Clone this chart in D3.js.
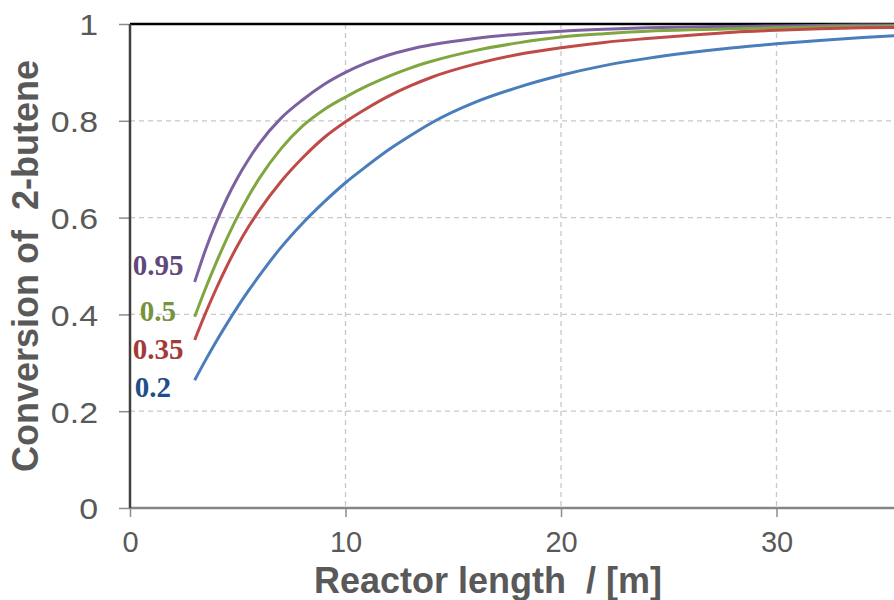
<!DOCTYPE html>
<html>
<head>
<meta charset="utf-8">
<script src="https://cdn.jsdelivr.net/npm/d3@7"></script>
<style>
    body { margin: 0; background: #fff; }
    svg { display: block; }
</style>
</head>
<body>
<div class="chart"></div>
<script>
// reactor length [m]
var lengths = [3, 3.5, 4, 4.5, 5, 5.5, 6, 7, 8, 9, 10, 11, 12, 13, 14, 16, 18, 20, 22, 24, 26, 28, 30, 32, 34, 36];

var seriesNames = ['0.95', '0.5', '0.35', '0.2'];

var conv095 = [0.467, 0.533, 0.590, 0.640, 0.683, 0.720, 0.753, 0.805, 0.843, 0.875, 0.900, 0.920, 0.936, 0.948, 0.957, 0.970, 0.979, 0.985, 0.989, 0.992, 0.994, 0.995, 0.996, 0.997, 0.998, 0.998];
var conv05 = [0.395, 0.453, 0.507, 0.557, 0.603, 0.644, 0.681, 0.742, 0.789, 0.823, 0.849, 0.872, 0.892, 0.909, 0.923, 0.945, 0.961, 0.973, 0.980, 0.985, 0.988, 0.990, 0.992, 0.994, 0.995, 0.996];
var conv035 = [0.347, 0.402, 0.453, 0.500, 0.543, 0.581, 0.615, 0.674, 0.723, 0.765, 0.798, 0.826, 0.851, 0.872, 0.890, 0.917, 0.937, 0.951, 0.962, 0.970, 0.977, 0.983, 0.987, 0.990, 0.992, 0.993];
var conv02 = [0.264, 0.305, 0.344, 0.381, 0.416, 0.449, 0.480, 0.538, 0.588, 0.632, 0.672, 0.707, 0.740, 0.769, 0.796, 0.838, 0.869, 0.894, 0.914, 0.929, 0.941, 0.951, 0.959, 0.966, 0.972, 0.977];

var xTicks = [0, 10, 20, 30];
var yTicks = [0, 0.2, 0.4, 0.6, 0.8, 1];

var config = {
    w: 894,
    h: 600,
    left: 130,
    top: 24,
    bottom: 508,
    unit: 21.55,
    font: 'Arial, "Liberation Sans", sans-serif',
    serif: '"Times New Roman", "Liberation Serif", serif',
    textColor: '#595959',
    lineColors: ['#7d60a0', '#80a640', '#be4b48', '#4a7ebb'],
    labelColors: ['#5f497a', '#77933c', '#a33a37', '#1f4e8a'],
    // label offset from the first point of each curve
    labelOffsets: [[-62, -7], [-55, 4], [-62, 19], [-60, 17]]
};

var drawChart = function () {
    var svg = d3.select('.chart')
        .append('svg')
        .attr('width', config.w)
        .attr('height', config.h);

    var xScale = d3.scaleLinear()
        .domain([0, 40])
        .range([config.left, config.left + 40 * config.unit]);

    var yScale = d3.scaleLinear()
        .domain([0, 1])
        .range([config.bottom, config.top]);

    // grid
    svg.append('g')
        .selectAll('line')
        .data(yTicks.filter(function (d) { return d > 0 && d < 1; }))
        .enter()
        .append('line')
        .attr('x1', config.left)
        .attr('x2', xScale(40))
        .attr('y1', function (d) { return yScale(d); })
        .attr('y2', function (d) { return yScale(d); })
        .attr('stroke', '#c8c8c8')
        .attr('stroke-width', 1.3)
        .attr('stroke-dasharray', '5,4');

    svg.append('g')
        .selectAll('line')
        .data(xTicks.filter(function (d) { return d > 0; }))
        .enter()
        .append('line')
        .attr('x1', function (d) { return xScale(d); })
        .attr('x2', function (d) { return xScale(d); })
        .attr('y1', config.top)
        .attr('y2', config.bottom)
        .attr('stroke', '#c8c8c8')
        .attr('stroke-width', 1.3)
        .attr('stroke-dasharray', '5,4');

    // axes
    var yAxis = d3.axisLeft(yScale)
        .tickValues(yTicks)
        .tickSize(11)
        .tickPadding(21)
        .tickFormat(d3.format('~g'));

    var gy = svg.append('g')
        .attr('transform', 'translate(' + config.left + ',0)')
        .call(yAxis);
    gy.select('.domain').remove();
    gy.selectAll('.tick line').attr('stroke', '#8c8c8c').attr('stroke-width', 1.5);
    gy.selectAll('.tick text')
        .attr('fill', config.textColor)
        .style('font-family', config.font)
        .style('font-size', '30px')
        .attr('dy', '0.36em')
        .attr('lengthAdjust', 'spacingAndGlyphs')
        .attr('textLength', function () { return this.getComputedTextLength() * 1.13; });

    var xAxis = d3.axisBottom(xScale)
        .tickValues(xTicks)
        .tickSize(9)
        .tickPadding(14);

    var gx = svg.append('g')
        .attr('transform', 'translate(0,' + config.bottom + ')')
        .call(xAxis);
    gx.select('.domain').remove();
    gx.selectAll('.tick line').attr('stroke', '#8c8c8c').attr('stroke-width', 1.5);
    gx.selectAll('.tick text')
        .attr('fill', config.textColor)
        .style('font-family', config.font)
        .style('font-size', '29px');

    svg.append('line')
        .attr('x1', config.left)
        .attr('x2', xScale(40))
        .attr('y1', config.bottom)
        .attr('y2', config.bottom)
        .attr('stroke', '#868686')
        .attr('stroke-width', 2.5);

    svg.append('line')
        .attr('x1', config.left)
        .attr('x2', xScale(40))
        .attr('y1', config.top)
        .attr('y2', config.top)
        .attr('stroke', '#000')
        .attr('stroke-width', 2.5);

    svg.append('line')
        .attr('x1', config.left)
        .attr('x2', config.left)
        .attr('y1', config.top)
        .attr('y2', config.bottom)
        .attr('stroke', '#404040')
        .attr('stroke-width', 2.5);

    // curves
    var series = [conv095, conv05, conv035, conv02];

    var line = d3.line()
        .x(function (d, i) { return xScale(lengths[i]); })
        .y(function (d) { return yScale(d); })
        .curve(d3.curveMonotoneX);

    svg.append('g')
        .selectAll('path')
        .data(series)
        .enter()
        .append('path')
        .attr('d', line)
        .attr('fill', 'none')
        .attr('stroke', function (d, i) { return config.lineColors[i]; })
        .attr('stroke-width', 3);

    svg.append('g')
        .selectAll('text')
        .data(seriesNames)
        .enter()
        .append('text')
        .attr('x', function (d, i) { return xScale(lengths[0]) + config.labelOffsets[i][0]; })
        .attr('y', function (d, i) { return yScale(series[i][0]) + config.labelOffsets[i][1]; })
        .attr('fill', function (d, i) { return config.labelColors[i]; })
        .style('font-family', config.serif)
        .style('font-weight', 'bold')
        .style('font-size', '29px')
        .text(function (d) { return d; });

    // titles
    svg.append('text')
        .attr('transform', 'translate(38,' + ((config.top + config.bottom) / 2) + ') rotate(-90)')
        .attr('text-anchor', 'middle')
        .attr('fill', config.textColor)
        .style('font-family', config.font)
        .style('font-weight', 'bold')
        .style('font-size', '36px')
        .style('white-space', 'pre')
        .text('Conversion of  2-butene');

    svg.append('text')
        .attr('x', 488)
        .attr('y', 593)
        .attr('text-anchor', 'middle')
        .attr('fill', config.textColor)
        .style('font-family', config.font)
        .style('font-weight', 'bold')
        .style('font-size', '36px')
        .style('white-space', 'pre')
        .text('Reactor length  / [m]');
};

drawChart();
</script>
</body>
</html>
